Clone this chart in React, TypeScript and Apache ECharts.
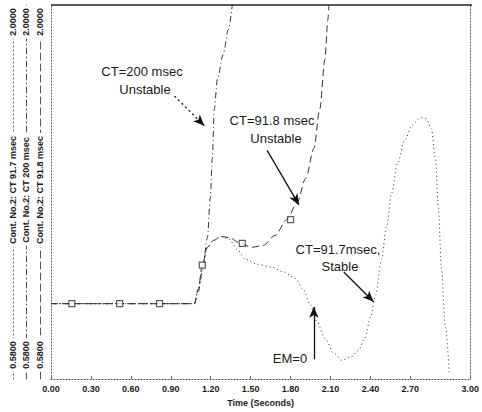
import React, { useEffect, useRef } from "react";
import * as echarts from "echarts";

// ---- data (time in seconds, channel value) ----
const xTickValues = [0, 0.3, 0.6, 0.9, 1.2, 1.5, 1.8, 2.1, 2.4, 2.7, 3.15];
const xTickLabels = ["0.00", "0.30", "0.60", "0.90", "1.20", "1.50", "1.80", "2.10", "2.40", "2.70", "3.00"];
const yMin = 0.58;
const yMax = 2.0;

const channelNames = [
  "Cont. No.2: CT 91.7 msec",
  "Cont. No.2: CT 200 msec",
  "Cont. No.2: CT 91.8 msec",
];
const yMinLabel = "0.5800";
const yMaxLabel = "2.0000";

const t200 = [0, 0.3, 0.6, 0.9, 1.077, 1.107, 1.137, 1.175, 1.197, 1.212, 1.227, 1.25, 1.294, 1.332, 1.362];
const v200 = [0.866, 0.866, 0.866, 0.866, 0.866, 0.911, 0.986, 1.117, 1.267, 1.418, 1.606, 1.718, 1.812, 1.906, 2.0];

const t918 = [0, 0.3, 0.6, 0.9, 1.077, 1.107, 1.137, 1.175, 1.22, 1.279, 1.339, 1.414, 1.504, 1.594, 1.683, 1.773, 1.848, 1.915, 1.975, 2.02, 2.058, 2.08, 2.088];
const v918 = [0.866, 0.866, 0.866, 0.866, 0.866, 0.922, 1.012, 1.08, 1.106, 1.121, 1.117, 1.098, 1.08, 1.087, 1.125, 1.185, 1.249, 1.343, 1.455, 1.606, 1.793, 1.944, 2.0];

const t917 = [0, 0.3, 0.6, 0.9, 1.077, 1.107, 1.137, 1.175, 1.22, 1.279, 1.339, 1.399, 1.459, 1.549, 1.654, 1.751, 1.833, 1.893, 1.945, 1.998, 2.058, 2.125, 2.185, 2.252, 2.312, 2.357, 2.402, 2.439, 2.484, 2.522, 2.559, 2.604, 2.656, 2.716, 2.776, 2.821, 2.858, 2.888, 2.911, 2.933, 2.963, 2.993];
const v917 = [0.866, 0.866, 0.866, 0.866, 0.866, 0.922, 1.012, 1.08, 1.106, 1.121, 1.11, 1.072, 1.035, 1.016, 1.005, 0.986, 0.963, 0.922, 0.866, 0.798, 0.734, 0.678, 0.651, 0.663, 0.689, 0.734, 0.817, 0.899, 1.035, 1.162, 1.286, 1.399, 1.485, 1.545, 1.572, 1.568, 1.53, 1.418, 1.23, 1.004, 0.779, 0.599];

// plot markers (channel symbols)
const markerT = [0.157, 0.516, 0.816, 1.137, 1.437, 1.8];
const markerV = [0.866, 0.866, 0.866, 1.012, 1.095, 1.185];

// annotation arrows: [tFrom, vFrom, tTo, vTo]
const arrow200 = [0.928, 1.654, 1.152, 1.542];
const arrow918 = [1.624, 1.448, 1.863, 1.241];
const arrow917 = [2.2, 0.986, 2.424, 0.873];
const arrowEM = [1.975, 0.655, 1.975, 0.854];

const zip = (t: number[], v: number[]) => t.map((x, i) => [x, v[i]]);

const FONT = "'Liberation Sans', Arial, sans-serif";
const INK = "#1a1a1a";

export default function App() {
  const ref = useRef<HTMLDivElement>(null);
  useEffect(() => {
    document.body.style.margin = "0";
    if (!ref.current) return;
    const chart = echarts.init(ref.current, undefined, { renderer: "svg" });

    const arrowLine = (a: number[], type: any) => [
      { coord: [a[0], a[1]], lineStyle: { type } },
      { coord: [a[2], a[3]] },
    ];

    const gridLeft = 51;
    const colX = [13, 26, 40];
    const colStyles: any[] = [[1, 3], [6, 3, 1, 3], [7, 4]];

    const graphicTexts: any[] = [];
    colX.forEach((cx, i) => {
      const mk = (y: number, text: string) => ({
        type: "text",
        x: cx,
        y,
        rotation: Math.PI / 2,
        z: 100,
        style: {
          text,
          fill: INK,
          font: `bold 9px ${FONT}`,
          align: "center",
          verticalAlign: "middle",
          backgroundColor: "#fff",
          padding: [2, 3],
        },
      });
      graphicTexts.push(mk(22, yMaxLabel));
      graphicTexts.push(mk(190, channelNames[i]));
      graphicTexts.push(mk(355, yMinLabel));
    });

    const ann = (x: number, y: number, text: string) => ({
      type: "text",
      x,
      y,
      z: 100,
      style: {
        text,
        fill: INK,
        font: `13px ${FONT}`,
        align: "center",
        verticalAlign: "middle",
      },
    });
    graphicTexts.push(ann(142, 71, "CT=200 msec"));
    graphicTexts.push(ann(145, 89, "Unstable"));
    graphicTexts.push(ann(272, 120, "CT=91.8 msec"));
    graphicTexts.push(ann(276, 138, "Unstable"));
    graphicTexts.push(ann(338, 249, "CT=91.7msec,"));
    graphicTexts.push(ann(340, 266, "Stable"));
    graphicTexts.push(ann(290, 358, "EM=0"));

    const decoAxes = colX.map((cx, i) => ({
      type: "value",
      position: "left",
      offset: gridLeft - cx,
      min: yMin,
      max: yMax,
      axisLine: { show: true, lineStyle: { color: "#555", width: 1, type: colStyles[i] } },
      axisLabel: { show: false },
      axisTick: { show: false },
      splitLine: { show: false },
    }));

    const mkLine = (data: any[]) => ({
      silent: true,
      symbol: ["none", "arrow"],
      symbolSize: [7, 11],
      label: { show: false },
      lineStyle: { color: "#111", width: 1.3 },
      data,
    });

    chart.setOption({
      animation: false,
      backgroundColor: "#fff",
      grid: { left: gridLeft, right: 10, top: 5, bottom: 29 },
      xAxis: {
        type: "value",
        min: 0,
        max: 3.15,
        name: "Time (Seconds)",
        nameLocation: "middle",
        nameGap: 19,
        nameTextStyle: { color: INK, fontFamily: FONT, fontSize: 9, fontWeight: "bold" },
        axisLine: { show: true, lineStyle: { color: "#444", type: [1, 2], width: 1 } },
        axisTick: { show: true, inside: true, length: 3, lineStyle: { color: "#666" }, customValues: xTickValues },
        axisLabel: {
          color: INK,
          fontFamily: FONT,
          fontSize: 9,
          fontWeight: "bold",
          margin: 5,
          customValues: xTickValues,
          formatter: (v: number) => {
            const i = xTickValues.findIndex((x) => Math.abs(x - v) < 1e-6);
            return i >= 0 ? xTickLabels[i] : "";
          },
        },
        splitLine: { show: false },
      },
      yAxis: [
        {
          type: "value",
          min: yMin,
          max: yMax,
          axisLine: { show: true, lineStyle: { color: "#555", type: [1, 2] } },
          axisLabel: { show: false },
          axisTick: { show: false },
          splitLine: { show: false },
        },
        {
          type: "value",
          position: "right",
          min: yMin,
          max: yMax,
          axisLine: { show: true, lineStyle: { color: "#555", type: [1, 2] } },
          axisLabel: { show: false },
          axisTick: { show: false },
          splitLine: { show: false },
        },
        ...decoAxes,
      ],
      graphic: [
        {
          type: "line",
          z: 50,
          shape: { x1: gridLeft, y1: 5, x2: 472, y2: 5 },
          style: { stroke: "#222", lineWidth: 1.5 },
        },
        ...graphicTexts,
      ],
      series: [
        {
          name: channelNames[0],
          type: "line",
          data: zip(t917, v917),
          showSymbol: false,
          smooth: 0.3,
          smoothMonotone: "x",
          lineStyle: { color: "#333", width: 1, type: colStyles[0] },
          markLine: mkLine([arrowLine(arrow917, "solid"), arrowLine(arrowEM, "solid")]),
        },
        {
          name: channelNames[1],
          type: "line",
          data: zip(t200, v200),
          showSymbol: false,
          smooth: 0.3,
          smoothMonotone: "x",
          lineStyle: { color: "#333", width: 1, type: colStyles[1] },
          markLine: mkLine([arrowLine(arrow200, [2, 3])]),
        },
        {
          name: channelNames[2],
          type: "line",
          data: zip(t918, v918),
          showSymbol: false,
          smooth: 0.3,
          smoothMonotone: "x",
          lineStyle: { color: "#333", width: 1, type: colStyles[2] },
          markLine: mkLine([arrowLine(arrow918, "solid")]),
        },
        {
          type: "scatter",
          data: zip(markerT, markerV),
          symbol: "rect",
          symbolSize: 6,
          itemStyle: { color: "#fff", borderColor: "#333", borderWidth: 1.2 },
          z: 5,
        },
      ],
    });
    return () => chart.dispose();
  }, []);
  return <div ref={ref} style={{ width: 482, height: 412 }} />;
}
